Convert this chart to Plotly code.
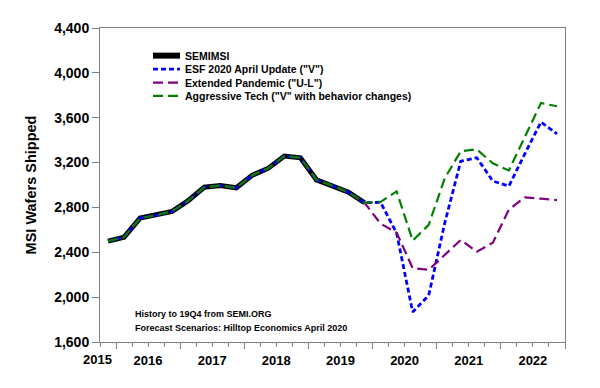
import plotly.graph_objects as go

# ---------------- data ----------------
hist_periods = ["2015Q4",
                "2016Q1", "2016Q2", "2016Q3", "2016Q4",
                "2017Q1", "2017Q2", "2017Q3", "2017Q4",
                "2018Q1", "2018Q2", "2018Q3", "2018Q4",
                "2019Q1", "2019Q2", "2019Q3", "2019Q4"]
semimsi = [2500, 2535, 2705, 2730, 2765, 2860, 2980, 2995, 2975,
           3088, 3150, 3258, 3243, 3046, 2994, 2936, 2842]

fc_periods = ["2020Q1", "2020Q2", "2020Q3", "2020Q4",
              "2021Q1", "2021Q2", "2021Q3", "2021Q4",
              "2022Q1", "2022Q2", "2022Q3", "2022Q4"]
esf_v = [2845, 2570, 1868, 2015, 2660, 3212, 3243, 3035, 2990, 3280, 3561, 3455]
ext_pandemic = [2655, 2575, 2258, 2244, 2380, 2510, 2405, 2486, 2781, 2890, 2878, 2866]
aggressive = [2850, 2943, 2504, 2645, 3060, 3302, 3318, 3193, 3130, 3430, 3731, 3702]

series_names = ["SEMIMSI",
                'ESF 2020 April Update ("V")',
                'Extended Pandemic ("U-L")',
                'Aggressive Tech ("V" with behavior changes)']

year_ticks = [2016, 2017, 2018, 2019, 2020, 2021, 2022, 2023]
y_ticks = [1600, 2000, 2400, 2800, 3200, 3600, 4000, 4400]
notes = ["History to 19Q4 from SEMI.ORG",
         "Forecast Scenarios: Hilltop Economics April 2020"]


def qx(p):
    """quarter label -> position at the middle of the quarter"""
    y, q = p.split("Q")
    return int(y) + (int(q) - 0.5) / 4.0


hx = [qx(p) for p in hist_periods]
sx = hx + [qx(p) for p in fc_periods]

FONT = "Liberation Sans, Arial, sans-serif"
GRAY = "#808080"

styles = [
    dict(color="black", width=5, dash="solid"),
    dict(color="#0000FF", width=2.8, dash="5px,3px"),
    dict(color="#800080", width=2.2, dash="10px,5px"),
    dict(color="#008000", width=2.2, dash="10px,5px"),
]

fig = go.Figure()
fig.add_trace(go.Scatter(x=hx, y=semimsi, mode="lines", name=series_names[0],
                         line=styles[0], showlegend=False))
for name, fc, st in zip(series_names[1:], [esf_v, ext_pandemic, aggressive], styles[1:]):
    fig.add_trace(go.Scatter(x=sx, y=semimsi + fc, mode="lines", name=name,
                             line=st, showlegend=False))

# ---------------- legend (drawn inside plot) ----------------
leg_y = [0.912, 0.869, 0.826, 0.784]
for name, st, yy in zip(series_names, styles, leg_y):
    fig.add_shape(type="line", xref="paper", yref="paper",
                  x0=0.114, x1=0.172, y0=yy, y1=yy,
                  line=dict(color=st["color"], width=st["width"] + (1 if st["dash"] == "solid" else 0),
                            dash=st["dash"]))
    fig.add_annotation(xref="paper", yref="paper", x=0.178, y=yy, text=name,
                       showarrow=False, xanchor="left", yanchor="middle",
                       font=dict(family=FONT, size=10.5, color="black", weight="bold"))

# ---------------- notes ----------------
for txt, yy in zip(notes, [0.088, 0.044]):
    fig.add_annotation(xref="paper", yref="paper", x=0.071, y=yy, text=txt,
                       showarrow=False, xanchor="left", yanchor="middle",
                       font=dict(family=FONT, size=9, color="black", weight="bold"))

# first year label (period starts before the axis)
fig.add_annotation(xref="x", yref="paper", x=2015.75, y=0, text="2015",
                   showarrow=False, xanchor="center", yanchor="top",
                   xshift=-3, yshift=-8,
                   font=dict(family=FONT, size=13, color="black", weight="bold"))

# page has an 8px body margin: size the figure so the plot area lands where the reference has it
fig.update_layout(
    width=592, height=380,
    margin=dict(l=92, r=35, t=17, b=46),
    paper_bgcolor="white", plot_bgcolor="white",
    font=dict(family=FONT, color="black"),
    showlegend=False,
)
fig.update_xaxes(
    range=[2015.75, 2023.0],
    tickmode="array", tickvals=year_ticks,
    ticktext=[str(y) for y in year_ticks[:-1]] + [""],
    ticklabelshift=32,
    ticks="outside", ticklen=6, tickcolor=GRAY, tickwidth=1,
    minor=dict(dtick=0.25, tick0=2016, ticks="outside", ticklen=4,
               tickcolor=GRAY, tickwidth=1),
    showgrid=False, zeroline=False,
    showline=True, linecolor=GRAY, linewidth=1, mirror=True,
    tickfont=dict(family=FONT, size=13, color="black", weight="bold"),
)
fig.update_yaxes(
    range=[1600, 4400],
    tickmode="array", tickvals=y_ticks, tickformat=",d",
    ticks="outside", ticklen=7, tickcolor=GRAY, tickwidth=1,
    showgrid=False, zeroline=False,
    showline=True, linecolor=GRAY, linewidth=1, mirror=True,
    tickfont=dict(family=FONT, size=14, color="black", weight="bold"),
    title=dict(text="MSI Wafers Shipped", standoff=14,
               font=dict(family=FONT, size=14.5, color="black", weight="bold")),
)

fig.write_html("out.html")
